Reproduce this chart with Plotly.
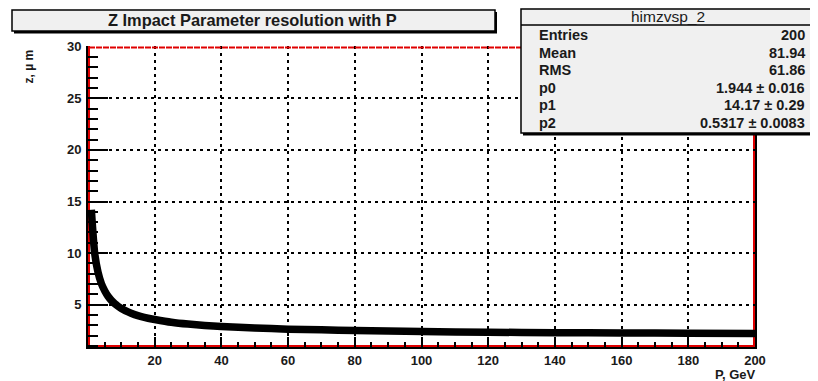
import plotly.graph_objects as go

# ---- data ----
P = [1, 2, 3, 4, 5, 6, 7, 8, 9, 10, 12, 14, 16, 18, 20, 25, 30, 35, 40, 50,
     60, 70, 80, 90, 100, 120, 140, 160, 180, 200]
Z = [14.2, 10.0, 8.15, 7.05, 6.35, 5.82, 5.42, 5.1, 4.85, 4.64, 4.3, 4.04, 3.84, 3.69,
     3.57, 3.3, 3.12, 2.99, 2.89, 2.74, 2.63, 2.56, 2.5, 2.45, 2.4, 2.33, 2.29, 2.26,
     2.24, 2.22]
x_ticks = [20, 40, 60, 80, 100, 120, 140, 160, 180, 200]
y_ticks = [5, 10, 15, 20, 25, 30]
title_text = "Z Impact Parameter resolution with P"
stats_name = "himzvsp_2"
stats_labels = ["Entries", "Mean", "RMS", "p0", "p1", "p2"]
stats_values = ["200", "81.94", "61.86", "1.944 ± 0.016", "14.17 ± 0.29", "0.5317 ± 0.0083"]

# ---- layout geometry (screen pixels; page body has an 8px margin) ----
OFF = 8
W, H = 818 - OFF, 381 - OFF
X0, X1, Y0, Y1 = 88, 755, 46, 347          # plot area in screen pixels
L, R, T, B = X0 - OFF, 818 - X1, Y0 - OFF, 381 - Y1
PW, PH = X1 - X0, Y1 - Y0


def px(x):
    return (x - X0) / PW


def py(y):
    return (Y1 - y) / PH


FONT = "Liberation Sans, Arial, sans-serif"
TXT = "#1a1a1a"

fig = go.Figure()
fig.add_trace(go.Scatter(
    x=P, y=Z, mode="lines",
    line=dict(color="black", width=7.5, shape="spline", smoothing=0.6),
    hoverinfo="skip", showlegend=False,
))

shapes = []
red = dict(color="#e00000", width=2)
# red inner frame
shapes.append(dict(type="line", xref="paper", yref="paper", x0=px(89), x1=px(89), y0=py(46), y1=py(347), line=red, layer="below"))
shapes.append(dict(type="line", xref="paper", yref="paper", x0=px(88), x1=px(755), y0=py(346), y1=py(346), line=red, layer="below"))
shapes.append(dict(type="line", xref="paper", yref="paper", x0=px(754), x1=px(754), y0=py(46), y1=py(347), line=red, layer="below"))
shapes.append(dict(type="line", xref="paper", yref="paper", x0=px(89), x1=px(755), y0=py(47.5), y1=py(47.5),
                   line=dict(color="#e00000", width=2, dash="6px,1px"), layer="above"))

# title box
shapes.append(dict(type="rect", xref="paper", yref="paper", x0=px(14), x1=px(497), y0=py(12), y1=py(33.5), fillcolor="black", line=dict(width=0), layer="above"))
shapes.append(dict(type="rect", xref="paper", yref="paper", x0=px(12), x1=px(495), y0=py(10), y1=py(31), fillcolor="#f0f0f0", line=dict(color="black", width=1.5), layer="above"))
# stats box
shapes.append(dict(type="rect", xref="paper", yref="paper", x0=px(523), x1=px(815), y0=py(11), y1=py(135.5), fillcolor="black", line=dict(width=0), layer="above"))
shapes.append(dict(type="rect", xref="paper", yref="paper", x0=px(521), x1=px(813), y0=py(9), y1=py(133), fillcolor="#f0f0f0", line=dict(color="black", width=1.5), layer="above"))
shapes.append(dict(type="line", xref="paper", yref="paper", x0=px(521), x1=px(813), y0=py(25), y1=py(25), line=dict(color="black", width=1.5), layer="above"))

ann = []
ann.append(dict(text=title_text, x=px(252.5), y=py(20.5), xref="paper", yref="paper", showarrow=False,
                xanchor="center", yanchor="middle", font=dict(family=FONT, size=16.4, color=TXT, weight="bold")))
ann.append(dict(text=stats_name, x=px(668), y=py(16.5), xref="paper", yref="paper", showarrow=False,
                xanchor="center", yanchor="middle", font=dict(family=FONT, size=15.5, color=TXT)))
for i, (lab, val) in enumerate(zip(stats_labels, stats_values)):
    yy = py(35 + i * 17.6)
    ann.append(dict(text=lab, x=px(537), y=yy, xref="paper", yref="paper", showarrow=False,
                    xanchor="left", yanchor="middle", font=dict(family=FONT, size=14.5, color=TXT, weight="bold")))
    ann.append(dict(text=val, x=px(807), y=yy, xref="paper", yref="paper", showarrow=False,
                    xanchor="right", yanchor="middle", font=dict(family=FONT, size=14.5, color=TXT, weight="bold")))
ann.append(dict(text="z, µ m", x=px(29), y=py(66.5), xref="paper", yref="paper", showarrow=False, textangle=-90,
                xanchor="center", yanchor="middle", font=dict(family=FONT, size=12, color=TXT, weight="bold")))
ann.append(dict(text="P, GeV", x=px(758), y=py(374), xref="paper", yref="paper", showarrow=False,
                xanchor="right", yanchor="middle", font=dict(family=FONT, size=13, color=TXT, weight="bold")))

tickfont = dict(family=FONT, size=13, color=TXT, weight="bold")
fig.update_layout(
    width=W, height=H, margin=dict(l=L, r=R, t=T, b=B, pad=0),
    paper_bgcolor="white", plot_bgcolor="white",
    shapes=shapes, annotations=ann, showlegend=False,
    xaxis=dict(range=[0, 200], tickmode="array", tickvals=x_ticks, ticks="inside", ticklen=10, tickwidth=2,
               tickcolor="black", showgrid=True, gridcolor="black", gridwidth=2, griddash="3px,4px",
               zeroline=False, showline=True, linecolor="black", linewidth=2, mirror=False,
               tickfont=tickfont,
               minor=dict(tickmode="linear", tick0=0, dtick=5, ticks="inside", ticklen=5, tickwidth=2,
                          tickcolor="black", showgrid=False)),
    yaxis=dict(range=[0.9, 30.07], tickmode="array", tickvals=y_ticks, ticks="inside", ticklen=20, tickwidth=2,
               tickcolor="black", showgrid=True, gridcolor="black", gridwidth=2, griddash="3px,4px",
               zeroline=False, showline=True, linecolor="black", linewidth=2, mirror=True,
               tickfont=tickfont, ticklabelstandoff=2,
               minor=dict(tickmode="linear", tick0=0, dtick=1, ticks="inside", ticklen=10, tickwidth=2,
                          tickcolor="black", showgrid=False)),
)

fig.write_html("out.html")
